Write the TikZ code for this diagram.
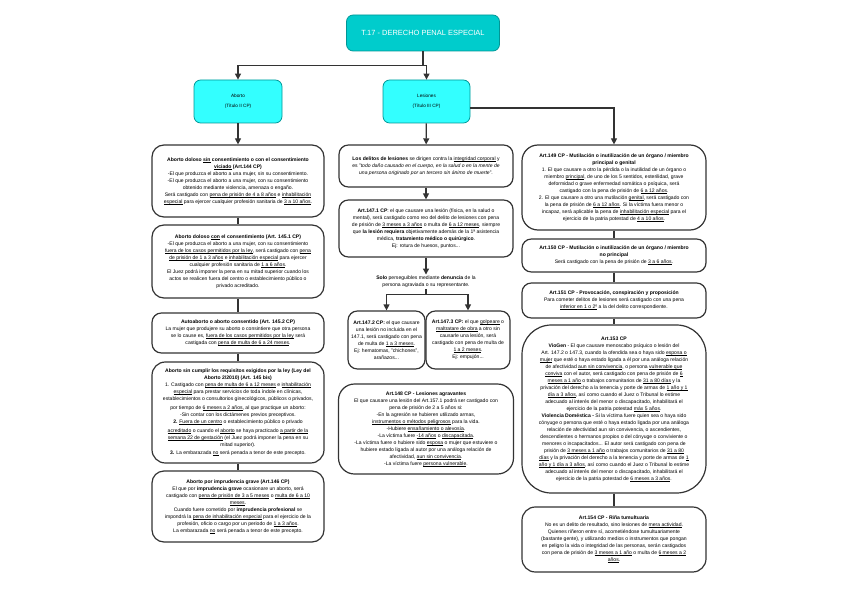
\documentclass[tikz,border=0pt]{standalone}
\usepackage{fontspec}
\setmainfont{Liberation Sans}
\usetikzlibrary{arrows.meta}
\newcommand\und[1]{\setbox0\hbox{#1}\rlap{\rule[-0.55pt]{\wd0}{0.22pt}}\box0\relax}

\begin{document}
\begin{tikzpicture}[x=0.75pt,y=0.75pt,yscale=-1,xscale=1,
  box/.style={draw={rgb, 255:red, 51; green, 51; blue, 51}, line width=0.9pt, rounded corners=7pt, fill=white, align=center, inner sep=1pt, font=\fontsize{3.8}{5.25}\selectfont},
  head/.style={draw={rgb, 255:red, 0; green, 150; blue, 150}, line width=0.6pt, rounded corners=5pt, fill={rgb, 255:red, 51; green, 255; blue, 255}, align=center, font=\fontsize{3.5}{7.5}\selectfont, minimum width=66pt, minimum height=32.25pt},
  link/.style={draw={rgb, 255:red, 51; green, 51; blue, 51}, line width=0.9pt},
  arr/.style={link, -{Triangle[length=4.5pt,width=4.5pt]}}
]
\useasboundingbox (0,0) rectangle (848,602);
\lineskiplimit=-5pt

%Shape: Rounded Rect (title)
\draw (423,33) node (title) [draw={rgb, 255:red, 0; green, 150; blue, 150}, line width=0.6pt, rounded corners=5pt, fill={rgb, 255:red, 0; green, 204; blue, 204}, text=white, font=\fontsize{5.6}{7}\selectfont, minimum width=114.75pt, minimum height=27pt] {T.17 - DERECHO PENAL ESPECIAL};

%Shape: Rounded Rect (heads)
\draw (238,101.5) node (aborto) [head] {Aborto\\(Título II CP)};
\draw (426.5,101.5) node (lesiones) [head, minimum width=65.25pt] {Lesiones\\(Título III CP)};

%Shape: Rounded Rect (left column)
\draw (238,181) node (art144) [box, minimum width=129pt, minimum height=54pt, rounded corners=9pt] {\textbf{Aborto doloso \und{sin} consentimiento o con el consentimiento}\\
\textbf{\und{viciado} (Art.144 CP)}\\
-El que produzca el aborto a una mujer, sin su consentimiento.\\
-El que produzca el aborto a una mujer, con su consentimiento\\
obtenido mediante violencia, amenaza o engaño.\\
Será castigado con \und{pena de prisión de 4 a 8 años} e \und{inhabilitación}\\
\und{especial} para ejercer cualquier profesión sanitaria de \und{3 a 10 años}.};

\draw (238,261.5) node (art1451) [box, minimum width=129pt, minimum height=54.75pt, rounded corners=9pt] {\textbf{Aborto doloso \und{con} el consentimiento (Art. 145.1 CP)}\\
-El que produzca el aborto a una mujer, con su consentimiento\\
\und{fuera de los casos permitidos por la ley}, será castigado con \und{pena}\\
\und{de prisión de 1 a 3 años} e \und{inhabilitación especial} para ejercer\\
cualquier profesión sanitaria de \und{1 a 6 años}.\\
El Juez podrá imponer la pena en su mitad superior cuando los\\
actos se realicen fuera del centro o establecimiento público o\\
privado acreditado.};

\draw (238,333) node (art1452) [box, minimum width=129pt, minimum height=30pt] {\textbf{Autoaborto o aborto consentido (Art. 145.2 CP)}\\
La mujer que produjere su aborto o consintiere que otra persona\\
se lo cause es, \und{fuera de los casos permitidos por la ley} será\\
castigada con \und{pena de multa de 6 a 24 meses}.};

\draw (238,412.5) node (art145bis) [box, minimum width=129pt, minimum height=75.75pt, rounded corners=10pt] {\textbf{Aborto sin cumplir los requisitos exigidos por la ley (Ley del}\\
\textbf{Aborto 2/2010) (Art. 145 bis)}\\
1. Castigado con \und{pena de multa de 6 a 12 meses} e \und{inhabilitación}\\
\und{especial} para prestar servicios de toda índole en clínicas,\\
establecimientos o consultorios ginecológicos, públicos o privados,\\[1.5pt]
por tiempo de \und{6 meses a 2 años}, al que practique un aborto:\\
-Sin contar con los dictámenes previos preceptivos.\\
\textbf{2.} \und{Fuera de un centro} o establecimiento público o privado\\[1pt]
\und{acreditado} o cuando el \und{aborto} se haya practicado \und{a partir de la}\\
\und{semana 22 de gestación} (el Juez podrá imponer la pena en su\\
mitad superior).\\[1pt]
\textbf{3.} La embarazada \und{no} será penada a tenor de este precepto.};

\draw (238,506.5) node (art146) [box, minimum width=129pt, minimum height=53.25pt, rounded corners=9pt] {\textbf{Aborto por imprudencia grave (Art.146 CP)}\\
El que por \textbf{imprudencia grave} ocasionare un aborto, será\\
castigado con \und{pena de prisión de 3 a 5 meses} o \und{multa de 6 a 10}\\
\und{meses}.\\
Cuando fuere cometido por \textbf{imprudencia profesional} se\\
impondrá la \und{pena de inhabilitación especial} para el ejercicio de la\\
profesión, oficio o cargo por un periodo de \und{1 a 3 años}.\\
La embarazada \und{no} será penada a tenor de este precepto.};

%Shape: Rounded Rect (middle column)
\draw (426,166) node (delitos) [box, minimum width=130.5pt, minimum height=31.5pt] {\textbf{Los delitos de lesiones} se dirigen contra la \und{integridad corporal} y\\
es "\textit{todo daño causado en el cuerpo, en la salud o en la mente de}\\
\textit{una persona originado por un tercero sin ánimo de muerte}".};

\draw (426,228.5) node (art1471) [box, minimum width=130.5pt, minimum height=42.75pt] {\textbf{Art.147.1 CP}: el que causare una lesión (física, en la salud o\\
mental), será castigado como reo del delito de lesiones con pena\\
de prisión de \und{3 meses a 3 años} o multa de \und{6 a 12 meses}, siempre\\
que \textbf{la lesión requiera} objetivamente además de la 1ª asistencia\\
médica, \textbf{tratamiento médico o quirúrgico}.\\
Ej: rotura de huesos, puntos...};

% Text Node
\draw (426,282) node (denuncia) [align=center, inner sep=1pt, font=\fontsize{3.8}{5.25}\selectfont] {\textbf{Solo} perseguibles mediante \textbf{denuncia} de la\\
persona agraviada o su representante.};

\draw (386.5,340) node (art1472) [box, minimum width=57.75pt, minimum height=43.5pt] {\textbf{Art.147.2 CP:} el que causare\\
una lesión no incluida en el\\
147.1, será castigado con pena\\
de multa de \und{1 a 3 meses}.\\
Ej: hematomas, "chichones",\\
arañazos...};

\draw (468,340) node (art1473) [box, minimum width=63pt, minimum height=43.5pt] {\textbf{Art.147.3 CP:} el que \und{golpeare} o\\
\und{maltratare de obra} a otro sin\\
causarle una lesión, será\\
castigado con pena de multa de\\
\und{1 a 2 meses}.\\
Ej: empujón...};

\draw (426,429) node (art148) [box, minimum width=131.25pt, minimum height=67.5pt, rounded corners=12pt] {\textbf{Art.148 CP - Lesiones agravantes}\\
El que causare una lesión del Art.157.1 podrá ser castigado con\\
pena de prisión de 2 a 5 años si:\\
-En la agresión se hubieren utilizado armas,\\
\und{instrumentos o métodos peligrosos} para la vida.\\
-Hubiere \und{ensañamiento o alevosía}.\\
-La víctima fuere \und{-14 años} o \und{discapacitada}.\\
-La víctima fuere o hubiere sido \und{esposa} o mujer que estuviere o\\
hubiere estado ligada al autor por una análoga relación de\\
afectividad, \und{aun sin convivencia}.\\
-La víctima fuere \und{persona vulnerable}.};

%Shape: Rounded Rect (right column)
\draw (614,187.5) node (art149) [box, minimum width=138pt, minimum height=63.75pt, rounded corners=12pt] {\textbf{Art.149 CP - Mutilación o inutilización de un órgano / miembro}\\
\textbf{principal o genital}\\
1. El que causare a otro la pérdida o la inutilidad de un órgano o\\
miembro \und{principal}, de uno de los 5 sentidos, esterilidad, grave\\
deformidad o grave enfermedad somática o psíquica, será\\
castigado con la pena de prisión de \und{6 a 12 años}.\\
2. El que causare a otro una mutilación \und{genital}, será castigado con\\
la pena de prisión de \und{6 a 12 años}. Si la víctima fuera menor o\\
incapaz, será aplicable la pena de \und{inhabilitación especial} para el\\
ejercicio de la patria potestad de \und{4 a 10 años}.};

\draw (614,255.5) node (art150) [box, minimum width=138pt, minimum height=24.75pt] {\textbf{Art.150 CP - Mutilación o inutilización de un órgano / miembro}\\
\textbf{no principal}\\
Será castigado con la pena de prisión de \und{3 a 6 años}.};

\draw (614,300.5) node (art151) [box, minimum width=138pt, minimum height=26.25pt] {\textbf{Art.151 CP - Provocación, conspiración y proposición}\\
Para cometer delitos de lesiones será castigado con una pena\\
\und{inferior en 1 o 2º} a la del delito correspondiente.};

\draw (614,409) node (art153) [box, minimum width=138pt, minimum height=126pt, rounded corners=22pt] {\textbf{Art.153 CP}\\
\textbf{VioGen} - El que causare menoscabo psíquico o lesión del\\
Art. 147.2 o 147.3, cuando la ofendida sea o haya sido \und{esposa o}\\
\und{mujer} que esté o haya estado ligada a él por una análoga relación\\
de afectividad \und{aun sin convivencia}, o persona \und{vulnerable que}\\
\und{conviva} con el autor, será castigado con pena de prisión de \und{6}\\
\und{meses a 1 año} o trabajos comunitarios de \und{31 a 80 días} y la\\
privación del derecho a la tenencia y porte de armas de \und{1 año y 1}\\
\und{día a 3 años}, así como cuando el Juez o Tribunal lo estime\\
adecuado al interés del menor o discapacitado, inhabilitará el\\
ejercicio de la patria potestad \und{máx 5 años}.\\
\textbf{Violencia Doméstica -} Si la víctima fuere quien sea o haya sido\\
cónyuge o persona que esté o haya estado ligada por una análoga\\
relación de afectividad aun sin convivencia, o ascendientes,\\
descendientes o hermanos propios o del cónyuge o conviviente o\\
menores o incapacitados... El autor será castigado con pena de\\
prisión de \und{3 meses a 1 año} o trabajos comunitarios de \und{31 a 80}\\
\und{días} y la privación del derecho a la tenencia y porte de armas de \und{1}\\
\und{año y 1 día a 3 años}, así como cuando el Juez o Tribunal lo estime\\
adecuado al interés del menor o discapacitado, inhabilitará el\\
ejercicio de la patria potestad de \und{6 meses a 3 años}.};

\draw (614,539.5) node (art154) [box, minimum width=138pt, minimum height=48.75pt, rounded corners=10pt] {\textbf{Art.154 CP - Riña tumultuaria}\\
No es un delito de resultado, sino lesiones de \und{mera actividad}.\\
Quienes riñeron entre sí, acometiéndose tumultuariamente\\
(bastante gente), y utilizando medios o instrumentos que pongan\\
en peligro la vida o integridad de las personas, serán castigados\\
con pena de prisión de \und{3 meses a 1 año} o multa de \und{6 meses a 2}\\
\und{años}.};

%Straight Lines (title to heads)
\draw [link] (title.south) -- ++(0,14) coordinate (tj);
\draw [arr] (tj) -| (aborto.north);
\draw [arr] (tj) -| (lesiones.north);
\draw [arr] ([yshift=4.9pt]lesiones.east) -| (art149.north);

%Straight Lines (left column)
\draw [arr] (aborto) -- (art144);
\draw [link] (art144) -- (art1451);
\draw [link] (art1451) -- (art1452);
\draw [link] (art1452) -- (art145bis);
\draw [link] (art145bis) -- (art146);

%Straight Lines (middle column)
\draw [arr] (lesiones) -- (delitos);
\draw [arr] (delitos) -- (art1471);
\draw [arr] (art1471) -- (denuncia);
\draw [link] (denuncia.south) -- ++(0,5) coordinate (dj);
\draw [arr] (dj) -| (art1472.north);
\draw [arr] (dj) -| (art1473.north);

%Straight Lines (right column)
\draw [link] (art149) -- (art150);
\draw [link] (art150) -- (art151);
\draw [link] (art151) -- (art153);
\draw [link] (art153) -- (art154);

\end{tikzpicture}
\end{document}
